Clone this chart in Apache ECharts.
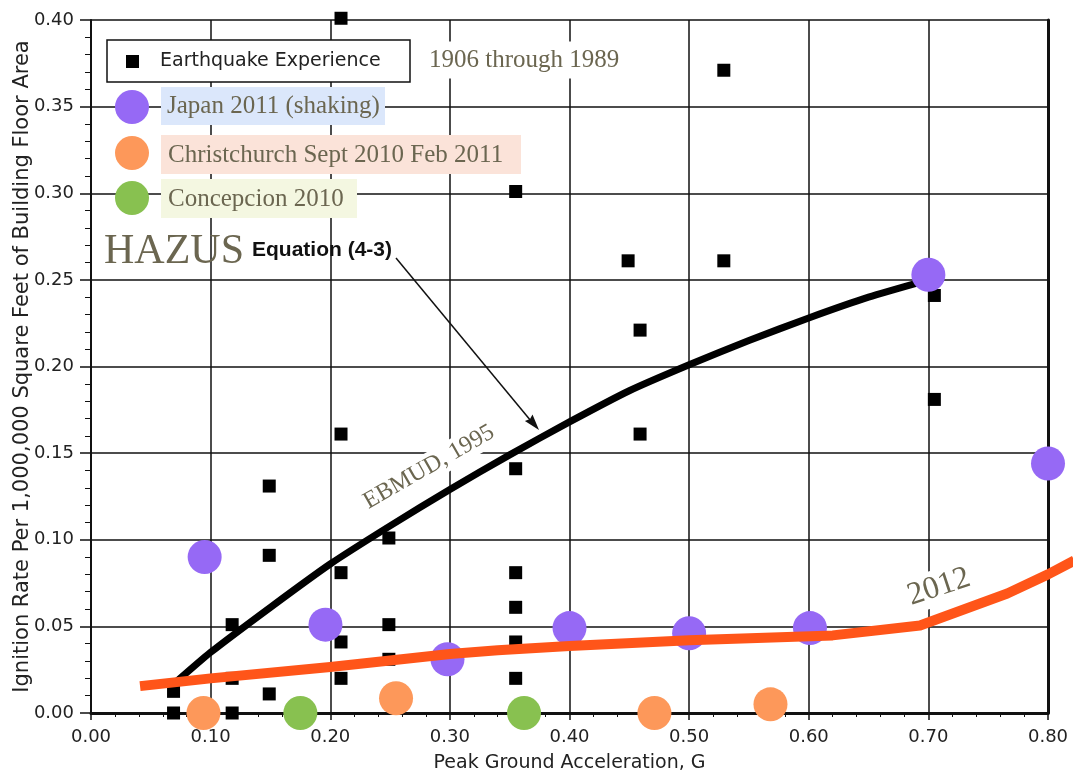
<!DOCTYPE html>
<html>
<head>
<meta charset="utf-8">
<script src="https://cdn.jsdelivr.net/npm/echarts@6/dist/echarts.min.js"></script>
<style>
  html, body { margin: 0; padding: 0; background: #fff; }
  #chart { width: 1073px; height: 772px; }
</style>
</head>
<body>
<div id="chart"></div>
<script>
// Ignition rate vs. peak ground acceleration: historical earthquakes, recent events and fitted curves

// Earthquake experience, 1906 through 1989 [PGA (g), ignitions per 1,000,000 sq ft]
const earthquakeExperience = [
  [0.069, 0.000], [0.069, 0.0125], [0.118, 0.000], [0.118, 0.020], [0.118, 0.051],
  [0.149, 0.011], [0.149, 0.091], [0.149, 0.131],
  [0.209, 0.020], [0.209, 0.041], [0.209, 0.081], [0.209, 0.161], [0.209, 0.401],
  [0.249, 0.031], [0.249, 0.051], [0.249, 0.101],
  [0.355, 0.020], [0.355, 0.041], [0.355, 0.061], [0.355, 0.081], [0.355, 0.141], [0.355, 0.301],
  [0.449, 0.261], [0.459, 0.221], [0.459, 0.161],
  [0.529, 0.261], [0.529, 0.371],
  [0.705, 0.241], [0.705, 0.181]
];

// Japan 2011 (shaking)
const japan2011 = [
  [0.095, 0.090], [0.196, 0.051], [0.298, 0.031], [0.400, 0.049],
  [0.500, 0.046], [0.601, 0.049], [0.700, 0.253], [0.800, 0.144]
];

// Christchurch Sept 2010 / Feb 2011
const christchurch = [[0.094, 0.000], [0.255, 0.0085], [0.471, 0.000], [0.568, 0.005]];

// Concepcion 2010
const concepcion = [[0.175, 0.000], [0.362, 0.000]];

// EBMUD 1995 curve (HAZUS Equation 4-3)
const ebmud1995 = [
  [0.068, 0.016], [0.10, 0.035], [0.15, 0.061], [0.20, 0.086], [0.25, 0.108],
  [0.30, 0.129], [0.35, 0.149], [0.40, 0.168], [0.45, 0.186], [0.50, 0.201],
  [0.55, 0.215], [0.60, 0.228], [0.65, 0.240], [0.70, 0.250]
];

// 2012 curve (runs slightly past the 0.80 g edge of the plot)
const curve2012 = [
  [0.041, 0.0155], [0.10, 0.020], [0.20, 0.0266], [0.30, 0.034], [0.34, 0.0362],
  [0.40, 0.0387], [0.50, 0.042], [0.62, 0.0448], [0.693, 0.0505], [0.766, 0.069],
  [0.80, 0.080], [0.822, 0.088]
];

// Axis extents and tick spacing
const xRange = [0, 0.8, 0.1];
const yRange = [0, 0.4, 0.05];
const tickDecimals = 2;

const INK = '#111';
const LABEL = '#222';
const SERIF_INK = '#6b6650';
const PURPLE = '#9669f5';
const ORANGE = '#fd985a';
const GREEN = '#88c150';
const LINE_2012 = '#ff5519';

const fmt = v => v.toFixed(tickDecimals);

const chart = echarts.init(document.getElementById('chart'), null, { renderer: 'canvas' });

// The 2012 curve is drawn as one unclipped polyline so it can run past the right axis
function render2012(params, api) {
  if (params.dataIndex !== 0) return null;
  const pts = curve2012.map(p => api.coord(p));
  return {
    type: 'polyline',
    shape: { points: pts },
    style: { stroke: LINE_2012, lineWidth: 10, fill: null, lineJoin: 'round' }
  };
}

const option = {
  animation: false,
  backgroundColor: '#fff',
  grid: { left: 91, right: 25, top: 20, bottom: 59, containLabel: false, outerBoundsMode: 'none' },
  xAxis: {
    type: 'value',
    min: xRange[0], max: xRange[1], interval: xRange[2],
    name: 'Peak Ground Acceleration, G',
    nameLocation: 'middle',
    nameGap: 41,
    nameTextStyle: { fontFamily: 'DejaVu Sans', fontSize: 19, color: LABEL },
    axisLine: { show: true, onZero: false, lineStyle: { color: INK, width: 3 } },
    axisTick: { show: true, inside: false, length: 7, lineStyle: { color: INK, width: 1.5 } },
    minorTick: { show: true, splitNumber: 5, length: 4, lineStyle: { color: INK, width: 1 } },
    axisLabel: { formatter: fmt, fontFamily: 'DejaVu Sans', fontSize: 18, color: LABEL, margin: 15 },
    splitLine: { show: true, lineStyle: { color: INK, width: 1.5 } }
  },
  yAxis: [
    {
      type: 'value',
      min: yRange[0], max: yRange[1], interval: yRange[2],
      name: 'Ignition Rate Per 1,000,000 Square Feet of Building Floor Area',
      nameLocation: 'middle',
      nameGap: 58,
      nameMoveOverlap: false,
      nameTextStyle: { fontFamily: 'DejaVu Sans', fontSize: 21, color: LABEL },
      axisLine: { show: true, onZero: false, lineStyle: { color: INK, width: 2 } },
      axisTick: { show: true, inside: false, length: 11, lineStyle: { color: INK, width: 1.5 } },
      minorTick: { show: true, splitNumber: 5, length: 6, lineStyle: { color: INK, width: 1 } },
      axisLabel: { formatter: fmt, fontFamily: 'DejaVu Sans', fontSize: 18, color: LABEL, margin: 17 },
      splitLine: { show: true, lineStyle: { color: INK, width: 1.5 } }
    },
    {
      type: 'value',
      position: 'right',
      min: yRange[0], max: yRange[1], interval: yRange[2],
      axisLine: { show: true, onZero: false, lineStyle: { color: INK, width: 3 } },
      axisTick: { show: false },
      axisLabel: { show: false },
      splitLine: { show: false }
    }
  ],
  series: [
    {
      name: 'Earthquake Experience',
      type: 'scatter',
      data: earthquakeExperience,
      symbol: 'rect',
      symbolSize: 13,
      itemStyle: { color: '#000', opacity: 1 },
      clip: false,
      z: 2
    },
    {
      name: 'EBMUD, 1995',
      type: 'line',
      data: ebmud1995,
      showSymbol: false,
      symbol: 'none',
      smooth: 0.2,
      lineStyle: { color: '#000', width: 7, cap: 'round', join: 'round' },
      clip: false,
      z: 3
    },
    {
      name: 'Japan 2011 (shaking)',
      type: 'scatter',
      data: japan2011,
      symbol: 'circle',
      symbolSize: 34,
      itemStyle: { color: PURPLE, opacity: 1 },
      clip: false,
      z: 4
    },
    {
      name: 'Christchurch Sept 2010 Feb 2011',
      type: 'scatter',
      data: christchurch,
      symbol: 'circle',
      symbolSize: 34,
      itemStyle: { color: ORANGE, opacity: 1 },
      clip: false,
      z: 4
    },
    {
      name: 'Concepcion 2010',
      type: 'scatter',
      data: concepcion,
      symbol: 'circle',
      symbolSize: 34,
      itemStyle: { color: GREEN, opacity: 1 },
      clip: false,
      z: 4
    },
    {
      name: '2012',
      type: 'custom',
      coordinateSystem: 'cartesian2d',
      data: curve2012,
      encode: { x: 0, y: 1 },
      renderItem: render2012,
      clip: false,
      silent: true,
      z: 5
    }
  ],
  graphic: [
    // Legend box for the historical data set
    { type: 'rect', z: 20, shape: { x: 107, y: 40, width: 303, height: 42 },
      style: { fill: '#fff', stroke: INK, lineWidth: 1.5 } },
    { type: 'rect', z: 21, shape: { x: 126, y: 55, width: 13, height: 13 }, style: { fill: '#000' } },
    { type: 'text', z: 21, x: 160, y: 61,
      style: { text: 'Earthquake Experience', fontFamily: 'DejaVu Sans', fontSize: 19,
               fill: LABEL, verticalAlign: 'middle', align: 'left' } },
    { type: 'text', z: 21, x: 427, y: 60,
      style: { text: '1906 through 1989', fontFamily: 'Liberation Serif', fontSize: 25,
               fill: SERIF_INK, verticalAlign: 'middle', align: 'left',
               backgroundColor: '#fff', padding: [6, 2] } },

    // Recent event keys
    { type: 'circle', z: 21, shape: { cx: 132, cy: 107, r: 17 }, style: { fill: PURPLE } },
    { type: 'rect', z: 20, shape: { x: 161, y: 87, width: 224, height: 38 }, style: { fill: '#dbe7fb' } },
    { type: 'text', z: 21, x: 167, y: 106,
      style: { text: 'Japan 2011 (shaking)', fontFamily: 'Liberation Serif', fontSize: 25,
               fill: SERIF_INK, verticalAlign: 'middle', align: 'left' } },

    { type: 'circle', z: 21, shape: { cx: 132, cy: 153, r: 17 }, style: { fill: ORANGE } },
    { type: 'rect', z: 20, shape: { x: 161, y: 135, width: 360, height: 39 }, style: { fill: '#fbe3d9' } },
    { type: 'text', z: 21, x: 168, y: 155,
      style: { text: 'Christchurch Sept 2010 Feb 2011', fontFamily: 'Liberation Serif', fontSize: 25,
               fill: SERIF_INK, verticalAlign: 'middle', align: 'left' } },

    { type: 'circle', z: 21, shape: { cx: 132, cy: 198, r: 17 }, style: { fill: GREEN } },
    { type: 'rect', z: 20, shape: { x: 161, y: 179, width: 196, height: 39 }, style: { fill: '#f4f7e1' } },
    { type: 'text', z: 21, x: 168, y: 199,
      style: { text: 'Concepcion 2010', fontFamily: 'Liberation Serif', fontSize: 25,
               fill: SERIF_INK, verticalAlign: 'middle', align: 'left' } },

    // HAZUS equation callout
    { type: 'text', z: 21, x: 104, y: 252,
      style: { text: 'HAZUS', fontFamily: 'Liberation Serif', fontSize: 42,
               fill: SERIF_INK, verticalAlign: 'middle', align: 'left' } },
    { type: 'text', z: 21, x: 252, y: 250,
      style: { text: 'Equation (4-3)', fontFamily: 'Liberation Sans', fontWeight: 'bold', fontSize: 21,
               fill: '#111', verticalAlign: 'middle', align: 'left' } },
    { type: 'line', z: 21, shape: { x1: 396, y1: 258, x2: 531, y2: 421 },
      style: { stroke: '#111', lineWidth: 1.5 } },
    { type: 'polygon', z: 21, shape: { points: [[539, 430], [524.9, 420.9], [530, 419], [532.5, 414.5]] },
      style: { fill: '#111' } },

    // Curve labels
    { type: 'text', z: 1, x: 429, y: 467, rotation: 0.52,
      style: { text: 'EBMUD, 1995', fontFamily: 'Liberation Serif', fontSize: 24,
               fill: SERIF_INK, verticalAlign: 'middle', align: 'center',
               backgroundColor: '#fff', padding: [2, 4] } },
    { type: 'text', z: 1, x: 939, y: 587, rotation: 0.32,
      style: { text: '2012', fontFamily: 'Liberation Serif', fontSize: 32,
               fill: SERIF_INK, verticalAlign: 'middle', align: 'center',
               backgroundColor: '#fff', padding: [2, 6] } }
  ]
};

chart.setOption(option);
</script>
</body>
</html>
